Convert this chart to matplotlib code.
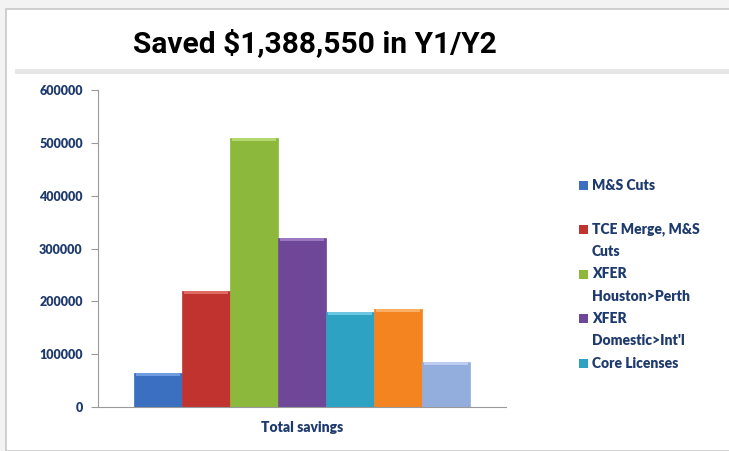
import matplotlib.pyplot as plt
from matplotlib.patches import Rectangle
from matplotlib import rcParams

rcParams['font.family'] = 'sans-serif'
rcParams['font.sans-serif'] = ['Lato', 'DejaVu Sans']

# values
categories = ["M&S Cuts", "TCE Merge, M&S\nCuts", "XFER\nHouston>Perth",
              "XFER\nDomestic>Int'l", "Core Licenses", "Other 1", "Other 2"]
savings = [65000, 220000, 510000, 320000, 180000, 185000, 85000]
colors = ["#3b6fc0", "#c0332f", "#8cb83b", "#6f4799", "#2ea2c3", "#f48420", "#93aedd"]
tops = ["#6f9be0", "#e06a66", "#b3d870", "#9a78c2", "#6cc8e2", "#ffb066", "#bccdf0"]
yticks = [0, 100000, 200000, 300000, 400000, 500000, 600000]
n_legend = 5  # only first five are visible in the legend

text_color = "#1f3b6e"
W, H = 729, 451

fig = plt.figure(figsize=(W / 100, H / 100), dpi=100)
fig.patch.set_facecolor("#f3f3f3")

# white card with a thin grey border
fig.patches.append(Rectangle((6/W, 0), 1, 1 - 9/H, transform=fig.transFigure,
                             facecolor="white", edgecolor="#c8c8c8", lw=1.2, zorder=-2))
# faint separator under the title
fig.patches.append(Rectangle((15/W, 1 - 74/H), 1, 5/H, transform=fig.transFigure,
                             facecolor="#e6e6e6", edgecolor="none", zorder=-1))

fig.text(315/W, 1 - 52/H, "Saved $1,388,550 in Y1/Y2", ha="center", va="baseline",
         fontsize=21.5, fontweight="bold", color="black", family="Roboto")

ax = fig.add_axes([98/W, 44/H, 408/W, 317/H])
ax.set_facecolor("none")

x = list(range(len(savings)))
bars = ax.bar(x, savings, width=1.0, color=colors, edgecolor=colors,
              linewidth=0.5, zorder=2)
# bevel highlight along the top of each bar
band = 6000
ax.bar(x, [band] * len(savings), bottom=[v - band for v in savings], width=0.92,
       color=tops, edgecolor="none", zorder=3)

ax.set_xlim(-1.25, 7.25)
ax.set_ylim(0, 600000)
ax.set_yticks(yticks)
ax.set_yticklabels([str(v) for v in yticks], fontsize=9, fontweight="heavy",
                   color=text_color)
ax.set_xticks([])
ax.tick_params(axis="y", direction="out", length=5, color="#9a9a9a", pad=6)

for s in ["top", "right"]:
    ax.spines[s].set_visible(False)
ax.spines["left"].set_color("#9a9a9a")
ax.spines["bottom"].set_color("#9a9a9a")

ax.set_xlabel("Total savings", fontsize=10, fontweight="heavy", color=text_color, labelpad=10)

# legend drawn by hand so the line layout matches the original
line_h = 22.25
line = 0
for i in range(n_legend):
    if i == 1:
        line += 1  # extra gap after the first entry
    for j, part in enumerate(categories[i].split("\n")):
        y = 1 - (185 + line_h * line) / H
        if j == 0:
            fig.patches.append(Rectangle((579/W, y - 4.5/H), 9/W, 9/H,
                                         transform=fig.transFigure,
                                         facecolor=colors[i], edgecolor="none"))
        fig.text(592/W, y, part, ha="left", va="center", fontsize=10,
                 fontweight="heavy", color=text_color)
        line += 1

plt.savefig("out.png", dpi=100, facecolor=fig.get_facecolor())
